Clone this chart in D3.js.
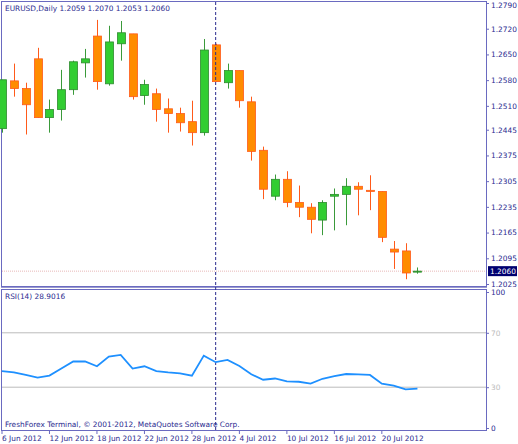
<!DOCTYPE html>
<html><head><meta charset="utf-8">
<script src="https://cdn.jsdelivr.net/npm/d3@7"></script>
<style>body{margin:0;background:#fff}svg text{font-family:"DejaVu Sans",sans-serif;font-size:7.4px}</style>
</head><body><svg id="c" width="518" height="444"></svg>
<script>
const dates=["6 Jun","7 Jun","8 Jun","11 Jun","12 Jun","13 Jun","14 Jun","15 Jun","18 Jun","19 Jun","20 Jun","21 Jun","22 Jun","25 Jun","26 Jun","27 Jun","28 Jun","29 Jun","2 Jul","3 Jul","4 Jul","5 Jul","6 Jul","9 Jul","10 Jul","11 Jul","12 Jul","13 Jul","16 Jul","17 Jul","18 Jul","19 Jul","20 Jul","23 Jul","24 Jul","25 Jul"];
const open=[1.2448,1.2578,1.2557,1.2638,1.2478,1.2500,1.2554,1.2627,1.2700,1.2570,1.2679,1.2706,1.2538,1.2543,1.2502,1.2489,1.2467,1.2437,1.2676,1.2573,1.2606,1.2521,1.2389,1.2264,1.2310,1.2247,1.2234,1.2199,1.2264,1.2269,1.2291,1.2280,1.2277,1.2120,1.2115,1.2059];
const high=[1.2581,1.2625,1.2573,1.2668,1.2527,1.2608,1.2633,1.2665,1.2744,1.2728,1.2741,1.2706,1.2581,1.2557,1.2530,1.2505,1.2524,1.2692,1.2679,1.2625,1.2606,1.2535,1.2399,1.2323,1.2332,1.2293,1.2245,1.2253,1.2285,1.2313,1.2302,1.2321,1.2277,1.2142,1.2136,1.2070];
const low=[1.2437,1.2535,1.2432,1.2478,1.2437,1.2470,1.2540,1.2587,1.2554,1.2565,1.2633,1.2527,1.2513,1.2467,1.2437,1.2440,1.2402,1.2429,1.2576,1.2557,1.2505,1.2361,1.2256,1.2253,1.2234,1.2207,1.2163,1.2158,1.2171,1.2185,1.2212,1.2226,1.2139,1.2066,1.2038,1.2053];
const close=[1.2581,1.2557,1.2513,1.2478,1.2500,1.2554,1.2630,1.2638,1.2576,1.2684,1.2709,1.2535,1.2568,1.2500,1.2489,1.2464,1.2437,1.2662,1.2576,1.2606,1.2524,1.2386,1.2283,1.2310,1.2247,1.2234,1.2201,1.2247,1.2269,1.2291,1.2283,1.2277,1.2152,1.2112,1.2055,1.2060];
const rsi=[41.8,40.9,39.0,37.1,38.5,43.7,48.9,48.9,45.4,52.5,53.7,43.7,45.4,41.8,40.9,40.2,38.5,53.2,48.4,50.1,45.6,39.5,35.5,36.4,34.3,34.0,32.6,36.2,38.1,39.7,39.5,39.0,32.6,31.2,28.4,28.9];
const priceTicks=[1.2790,1.2720,1.2650,1.2580,1.2510,1.2445,1.2375,1.2305,1.2235,1.2165,1.2095,1.2025];
const rsiTicks=[100,70,30,0];
const dateLabels=["6 Jun 2012","12 Jun 2012","18 Jun 2012","22 Jun 2012","28 Jun 2012","4 Jul 2012","10 Jul 2012","16 Jul 2012","20 Jul 2012"];
const dateIdx=[0,4,8,12,16,20,24,28,32];
const last=1.2060;

const svg=d3.select("#c");
const navy="#2b2b8f";
const x=d3.scaleLinear().domain([0,1]).range([2,13.87]);
const y=d3.scaleLinear().domain([1.2025,1.2790]).range([284,3]);
const yr=d3.scaleLinear().domain([0,100]).range([428,292]);

svg.append("rect").attr("x",1.5).attr("y",1.5).attr("width",485).attr("height",285).attr("fill","none").attr("stroke","#6a6ac0");
svg.append("rect").attr("x",1.5).attr("y",289.5).attr("width",485).attr("height",141).attr("fill","none").attr("stroke","#6a6ac0");
svg.append("line").attr("x1",1).attr("x2",487).attr("y1",287.5).attr("y2",287.5).attr("stroke","#9a9ad0");

svg.append("line").attr("x1",2).attr("x2",486).attr("y1",y(last)).attr("y2",y(last)).attr("stroke","#e8b8b8").attr("stroke-dasharray","1,1");
[70,30].forEach(v=>svg.append("line").attr("x1",2).attr("x2",486).attr("y1",yr(v)).attr("y2",yr(v)).attr("stroke","#bbb").attr("stroke-width",1));

const g=svg.append("g");
open.forEach((o,i)=>{
  const c=close[i],up=c>=o,cx=Math.round(x(i))+0.5;
  const col=up?"#32cd32":"#ff8c00",st=up?"#2e8b2e":"#ff5a1a";
  g.append("line").attr("x1",cx).attr("x2",cx).attr("y1",y(high[i])).attr("y2",y(low[i])).attr("stroke",up?"#3a9a3a":"#ff5a1a");
  const t=y(Math.max(o,c)),b=y(Math.min(o,c));
  g.append("rect").attr("x",cx-4).attr("y",t).attr("width",8).attr("height",Math.max(1,b-t)).attr("fill",col).attr("stroke",st).attr("stroke-width",0.8);
});

svg.append("line").attr("x1",x(18)).attr("x2",x(18)).attr("y1",2).attr("y2",430).attr("stroke",navy).attr("stroke-dasharray","3,2");

svg.append("path").datum(rsi).attr("fill","none").attr("stroke","#1e90ff").attr("stroke-width",1.8)
 .attr("d",d3.line().x((d,i)=>x(i)).y(d=>yr(d)));

const ax=svg.append("g").attr("transform","translate(486,0)").call(d3.axisRight(y).tickValues(priceTicks).tickFormat(d3.format(".4f")).tickSize(3));
ax.select(".domain").attr("stroke","#6a6ac0");
ax.selectAll("line").attr("stroke","#6a6ac0");
ax.selectAll("text").attr("fill",navy).attr("x",5).attr("font-size","7.4px").attr("font-family","DejaVu Sans");
ax.selectAll(".tick").filter(d=>d===1.2790).select("text").attr("dy","0.6em");
svg.append("rect").attr("x",488).attr("y",y(last)-5).attr("width",29).attr("height",10).attr("fill","#000070");
svg.append("text").attr("x",490).attr("y",y(last)+3).attr("fill","#fff").text(d3.format(".4f")(last));

const ar=svg.append("g").attr("transform","translate(486,0)").call(d3.axisRight(yr).tickValues(rsiTicks).tickSize(3));
ar.select(".domain").attr("stroke","#6a6ac0");
ar.selectAll("line").attr("stroke","#6a6ac0");
ar.selectAll("text").attr("fill",d=>(d==70||d==30)?"#bbb":navy).attr("x",5).attr("font-size","7.4px").attr("font-family","DejaVu Sans");

const xd=svg.append("g");
dateIdx.forEach((di,k)=>{
  const px=x(di);
  xd.append("line").attr("x1",px).attr("x2",px).attr("y1",430).attr("y2",434).attr("stroke","#6a6ac0");
  xd.append("text").attr("x",px).attr("y",441).attr("fill",navy).text(dateLabels[k]);
});

svg.append("text").attr("x",5).attr("y",11).attr("fill",navy).text("EURUSD,Daily  1.2059 1.2070 1.2053 1.2060");
svg.append("text").attr("x",5).attr("y",299).attr("fill",navy).text("RSI(14) 28.9016");
svg.append("text").attr("x",5).attr("y",427).attr("fill",navy).text("FreshForex Terminal, © 2001-2012, MetaQuotes Software Corp.");
</script></body></html>
